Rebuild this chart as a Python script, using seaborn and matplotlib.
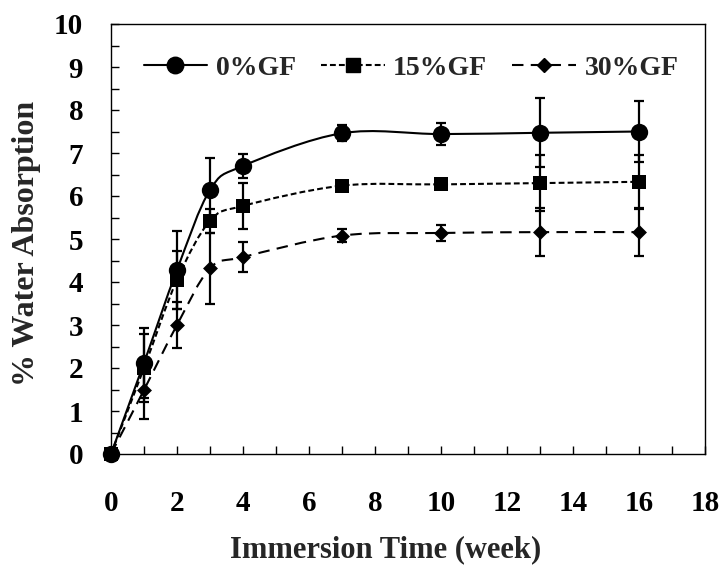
import matplotlib
matplotlib.use('Agg')
import matplotlib.pyplot as plt
import numpy as np
import pandas as pd
import seaborn as sns
from matplotlib.lines import Line2D
from matplotlib.patches import PathPatch
from matplotlib.path import Path
from matplotlib.ticker import MultipleLocator

# immersion time (week)
weeks = [0, 1, 2, 3, 4, 7, 10, 13, 16]

# % water absorption and error bars
gf0 = [0.0, 2.12, 4.28, 6.14, 6.70, 7.46, 7.44, 7.47, 7.50]
gf0_err = [0.0, 0.81, 0.90, 0.74, 0.28, 0.18, 0.25, 0.80, 0.72]
gf15 = [0.0, 2.00, 4.05, 5.42, 5.77, 6.24, 6.27, 6.30, 6.33]
gf15_err = [0.0, 0.80, 0.67, 0.28, 0.54, 0.05, 0.05, 0.65, 0.63]
gf30 = [0.0, 1.49, 3.00, 4.32, 4.58, 5.08, 5.14, 5.16, 5.16]
gf30_err = [0.0, 0.68, 0.53, 0.83, 0.34, 0.15, 0.18, 0.55, 0.55]

labels = ['0%GF', '15%GF', '30%GF']

sns.set_style('ticks')
plt.rcParams['font.family'] = ['Liberation Serif', 'DejaVu Serif']
plt.rcParams['font.weight'] = 'bold'
plt.rcParams['axes.labelweight'] = 'bold'

df = pd.DataFrame({
    'week': weeks * 3,
    'wa': gf0 + gf15 + gf30,
    'err': gf0_err + gf15_err + gf30_err,
    'sample': np.repeat(labels, len(weeks)),
})


def smooth_path(x, y):
    # Excel-like smoothed line: cubic bezier through every data point
    pts = np.column_stack([x, y]).astype(float)
    n = len(pts)
    verts = [pts[0]]
    codes = [Path.MOVETO]
    for i in range(n - 1):
        p0 = pts[max(i - 1, 0)]
        p1 = pts[i]
        p2 = pts[i + 1]
        p3 = pts[min(i + 2, n - 1)]
        verts += [p1 + (p2 - p0) / 6, p2 - (p3 - p1) / 6, p2]
        codes += [Path.CURVE4] * 3
    return Path(verts, codes)


styles = {
    '0%GF': dict(marker='o', ms=12.5, ls='-'),
    '15%GF': dict(marker='s', ms=10.5, ls=(0, (2.8, 1.5))),
    '30%GF': dict(marker='D', ms=7.6, ls=(0, (5.5, 3.5))),
}

fig = plt.figure(figsize=(7.24, 5.69), dpi=100)
ax = fig.add_axes([111 / 724, 115 / 569, 594 / 724, 430 / 569])

handles = []
for name, sub in df.groupby('sample', sort=False):
    st = styles[name]
    patch = PathPatch(smooth_path(sub['week'], sub['wa']), fill=False,
                      edgecolor='black', linewidth=1.5, linestyle=st['ls'],
                      zorder=2)
    ax.add_patch(patch)
    ax.errorbar(sub['week'], sub['wa'], yerr=sub['err'], fmt='none',
                ecolor='black', elinewidth=1.6, capsize=3.6, capthick=1.6,
                zorder=3)
    sns.scatterplot(x='week', y='wa', data=sub, ax=ax, marker=st['marker'],
                    s=st['ms'] ** 2, color='black', edgecolor='black',
                    linewidth=0, zorder=4, legend=False, clip_on=False)
    handles.append(Line2D([0], [0], color='black', lw=1.5, ls=st['ls'],
                          marker=st['marker'], ms=st['ms'] * 0.95,
                          label=name))

ax.set_xlim(0, 18)
ax.set_ylim(0, 10)
ax.xaxis.set_major_locator(MultipleLocator(2))
ax.xaxis.set_minor_locator(MultipleLocator(1))
ax.yaxis.set_major_locator(MultipleLocator(1))
ax.yaxis.set_minor_locator(MultipleLocator(0.5))
ax.tick_params(which='both', direction='in', length=5.5, width=1,
               colors='black', top=False, right=False, labelsize=21)
ax.tick_params(axis='y', which='major', pad=20)
ax.tick_params(axis='x', which='major', pad=26)
for sp in ax.spines.values():
    sp.set_visible(True)
    sp.set_color('black')
    sp.set_linewidth(1)

ax.set_xlabel('Immersion Time (week)', fontsize=22, fontweight='bold')
ax.set_ylabel('% Water Absorption', fontsize=23, fontweight='bold')
ax.xaxis.label.set_va('center')
ax.yaxis.label.set_va('center')
ax.xaxis.set_label_coords(0.462, -0.222)
ax.yaxis.set_label_coords(-0.143, 0.49)

ax.legend(handles=handles, loc='center', bbox_to_anchor=(0.505, 0.898),
          ncol=3, frameon=False, handlelength=2.3, handletextpad=0.3,
          columnspacing=0.9, prop={'family': 'Liberation Serif',
                                   'weight': 'bold', 'size': 20})

fig.savefig('out.png', dpi=100, facecolor='white')
